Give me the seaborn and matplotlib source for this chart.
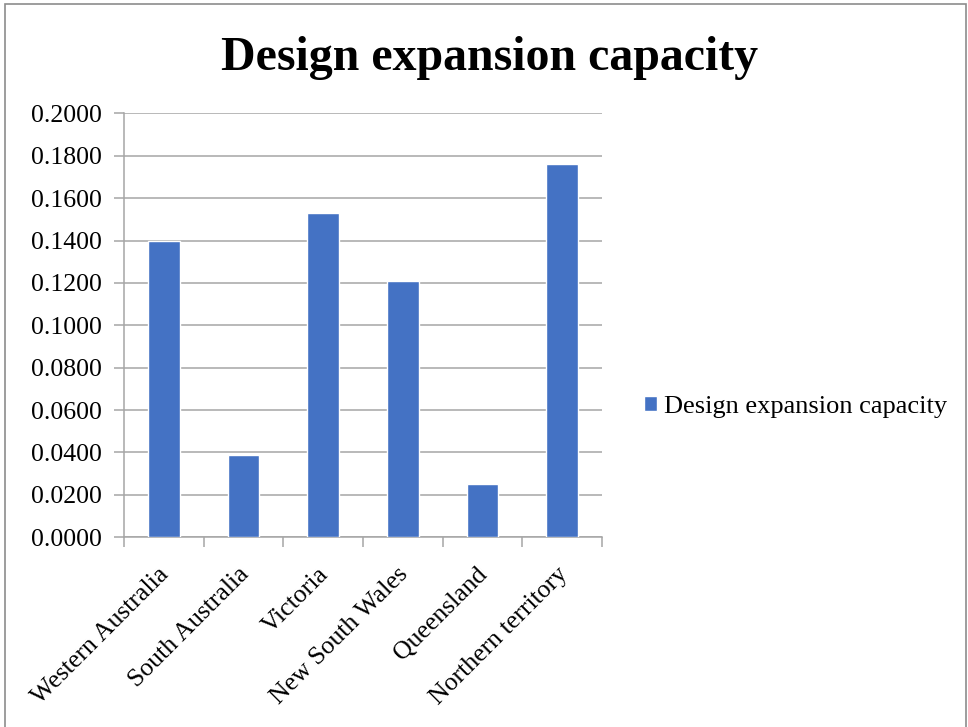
import matplotlib
matplotlib.use("Agg")
import matplotlib.pyplot as plt
import matplotlib.transforms as mtransforms
import seaborn as sns
import pandas as pd
from matplotlib.patches import Rectangle
from matplotlib.ticker import FixedLocator, FuncFormatter

regions = ["Western Australia", "South Australia", "Victoria",
           "New South Wales", "Queensland", "Northern territory"]
capacity = [0.140, 0.039, 0.153, 0.121, 0.025, 0.176]
series_name = "Design expansion capacity"
y_ticks = [0.0, 0.02, 0.04, 0.06, 0.08, 0.10, 0.12, 0.14, 0.16, 0.18, 0.20]

sns.set_theme(style="white")
plt.rcParams["font.family"] = ["Liberation Serif", "DejaVu Serif"]
plt.rcParams["text.color"] = "black"
plt.rcParams["xtick.color"] = "black"
plt.rcParams["ytick.color"] = "black"

df = pd.DataFrame({"region": regions, "value": capacity})

fig = plt.figure(figsize=(9.68, 7.27), dpi=100)
ax = fig.add_axes([0.128, 0.261, 0.494, 0.583])

sns.barplot(data=df, x="region", y="value", color="#4472C4", width=0.4,
            saturation=1, ax=ax, label=series_name, zorder=3)
handles, labels = ax.get_legend_handles_labels()
if ax.get_legend() is not None:
    ax.get_legend().remove()

grid_c = "#a6a6a6"
ax.set_ylim(0, 0.2)
ax.set_xlim(-0.5, len(regions) - 0.5)
ax.yaxis.set_major_locator(FixedLocator(y_ticks))
ax.yaxis.set_major_formatter(FuncFormatter(lambda v, p: f"{v:.4f}"))
ax.grid(axis="y", color=grid_c, linewidth=1.1, zorder=0)
ax.set_axisbelow(True)

# category boundary ticks on x
ax.set_xticks([i - 0.5 for i in range(len(regions) + 1)])
ax.set_xticklabels([""] * (len(regions) + 1))
ax.tick_params(axis="x", length=7, width=1.1, color=grid_c,
               direction="out", bottom=True)
ax.tick_params(axis="y", length=7, width=1.1, color=grid_c, direction="out",
               left=True, labelsize=18.5, pad=9, labelcolor="black")

# rotated category names centred under each bar
label_tf = (mtransforms.blended_transform_factory(ax.transData, ax.transAxes)
            + mtransforms.ScaledTranslation(-6 / 100, -26 / 100,
                                            fig.dpi_scale_trans))
for i, name in enumerate(regions):
    ax.text(i, 0, name, transform=label_tf, rotation=45, ha="right",
            va="top", rotation_mode="anchor", fontsize=18.5, color="black",
            clip_on=False)

for side in ["top", "right"]:
    ax.spines[side].set_visible(False)
for side in ["left", "bottom"]:
    ax.spines[side].set_color(grid_c)
    ax.spines[side].set_linewidth(1.1)

ax.set_xlabel("")
ax.set_ylabel("")

fig.suptitle(series_name, x=0.506, y=0.951, fontsize=34.5, fontweight="bold",
             va="top", color="black")

fig.legend(handles, labels, loc="center left", bbox_to_anchor=(0.665, 0.44),
           frameon=False, fontsize=19, handlelength=0.5, handleheight=0.5,
           handletextpad=0.25, borderpad=0, borderaxespad=0,
           labelcolor="black")

# chart area border
fig.patches.append(Rectangle((5 / 968, -0.05), 961 / 968, 1.05 - 4 / 727,
                             transform=fig.transFigure, fill=False,
                             edgecolor="#8c8c8c", linewidth=1.2))

fig.savefig("out.png", dpi=100)
